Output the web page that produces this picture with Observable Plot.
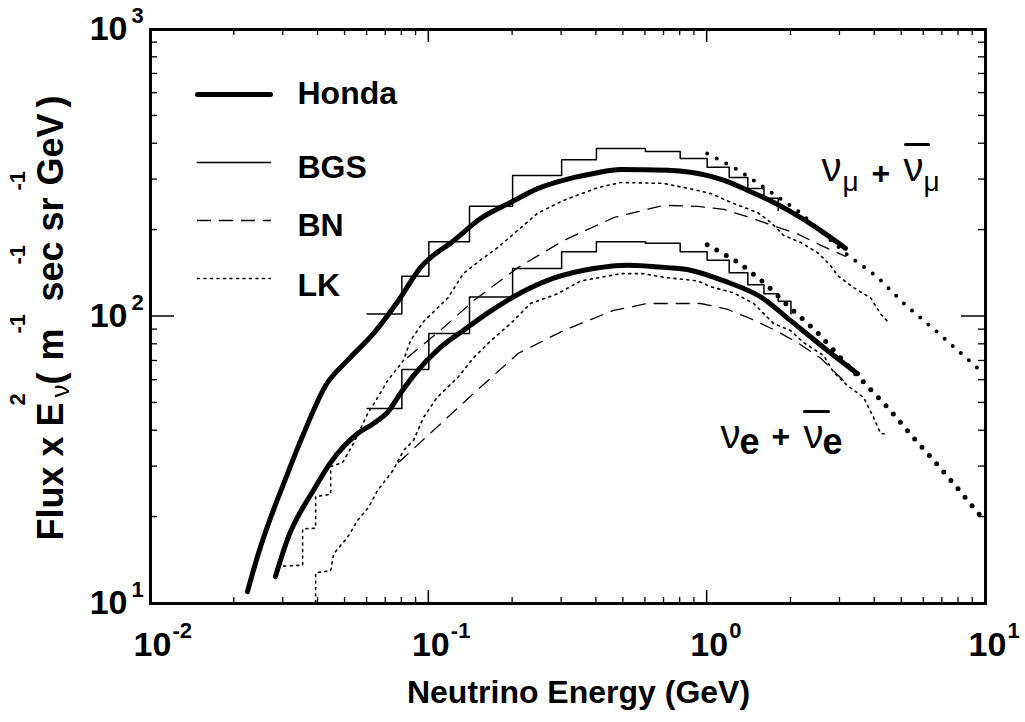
<!DOCTYPE html>
<html><head><meta charset="utf-8">
<script src="https://cdn.jsdelivr.net/npm/d3@7"></script>
<script src="https://cdn.jsdelivr.net/npm/@observablehq/plot@0.6"></script>
<style>body{margin:0;background:#fff}</style>
</head><body><div id="chart"></div>
<script>
// ---- data (E in GeV, Flux x E^2) ----
const hondaMu = [[0.0223,11.0],[0.0244,14.9],[0.0311,28.4],[0.0355,39.1],[0.0426,57.5],[0.0510,70.3],[0.0633,87.3],[0.0778,113.7],[0.0933,148],[0.123,184],[0.153,219],[0.197,250],[0.246,279],[0.323,303],[0.391,315],[0.489,325],[0.721,323],[0.871,318],[1.15,298],[1.40,275],[1.73,250],[2.17,221],[2.62,196],[3.14,173]];
const hondaE = [[0.0281,12.4],[0.0311,16.8],[0.0385,24.8],[0.0444,31.0],[0.0555,39.1],[0.0633,42.4],[0.0711,46.4],[0.0791,54.0],[0.0881,62.2],[0.110,78.0],[0.133,89.4],[0.163,103],[0.214,121],[0.281,136],[0.391,147],[0.518,151],[0.721,148],[0.871,145],[1.15,133],[1.58,116],[1.99,96.9],[2.62,78.0],[3.47,63.2]];
const bgsEdges = [0.06,0.08,0.1,0.14,0.2,0.3,0.4,0.6,0.8,1.0,1.2,1.4,1.6,1.8,2.0];
const bgsMu = [102,138,182,242,310,352,385,376,355,331,305,279,258];
const bgsMuEnd = 234;
const bgsE = [47.8,65.3,87.3,117,147,168,182,180,168,157,142,129,120,113];
const bgsEEnd = 102;
const bnMu = [[0.0838,71.9],[0.110,89.4],[0.145,113.7],[0.209,148],[0.305,184],[0.461,221],[0.697,244],[0.925,242],[1.15,236],[1.43,221],[1.73,207],[2.11,194],[2.56,177],[3.14,162]];
const bnE = [[0.0778,31.0],[0.101,39.1],[0.145,54.0],[0.209,74.3],[0.305,89.4],[0.461,105],[0.611,111],[0.802,111],[0.947,111],[1.18,106],[1.43,98.4],[1.76,89.4],[2.11,81.1],[2.56,71.5],[3.01,61.3],[3.14,58.9]];
const lkMu = [[0.0301,13.5],[0.0352,13.6],[0.0352,18.2],[0.0392,18.3],[0.0392,23.6],[0.0444,24.0],[0.0444,30.0],[0.0490,31.0],[0.0536,36.1],[0.0603,45.9],[0.0655,52.2],[0.0711,59.8],[0.0811,70.3],[0.0859,82.4],[0.0957,96],[0.117,116],[0.133,141],[0.153,157],[0.177,174],[0.209,200],[0.246,229],[0.305,254],[0.404,281],[0.489,293],[0.697,291],[0.925,275],[1.03,268],[1.24,248],[1.52,230],[1.69,213],[1.88,192],[2.17,181],[2.49,167],[2.77,151],[2.94,139],[3.36,126],[3.87,116],[4.20,102],[4.49,95.3]];
const lkE = [[0.0355,10.0],[0.0392,10.0],[0.0392,12.8],[0.0444,13.0],[0.0455,14.9],[0.0510,17.0],[0.0555,19.5],[0.0607,21.6],[0.0655,24.8],[0.0742,29.0],[0.0811,34.1],[0.0881,37.0],[0.0957,44.5],[0.107,52.2],[0.127,61.3],[0.145,71.9],[0.167,82.4],[0.197,94.6],[0.232,111],[0.290,120],[0.351,133],[0.489,141],[0.590,141],[0.697,137],[0.925,133],[1.03,127],[1.24,121],[1.47,111],[1.73,94.6],[1.99,89.4],[2.22,81.1],[2.62,73.1],[2.85,63.8],[3.19,57.5],[3.65,52.2],[3.96,44.5],[4.20,39.1],[4.49,39.0]];
const extMu = [[1.00,370],[1.30,323],[1.66,275],[2.11,234],[2.41,209],[3.14,166],[4.10,137],[5.04,112],[6.73,87.9],[8.34,73.1],[9.8,63.5]];
const extE = [[1.00,178],[1.30,154],[1.62,130],[1.99,107],[2.47,88.7],[3.01,71.9],[3.68,58.5],[4.49,47.8],[5.42,38.5],[6.56,31.3],[7.94,25.2],[9.8,19.7]];
const xTickValues = [0.01,0.1,1,10];
const xTickExps = ["-2","-1","0","1"];
const yTickValues = [10,100,1000];
const yTickExps = ["1","2","3"];
const legendNames = ["Honda","BGS","BN","LK"];

// ---- layout ----
const WIDTH = 1025, HEIGHT = 722, ML = 150, MR = 40, MT = 29, MB = 119;
const F = "'Liberation Sans', Arial, Helvetica, sans-serif";

const steps = (edges, vals, end) => vals.map((v, i) => [edges[i], v]).concat([[edges[vals.length], end]]);
const xMinor = [], yMinor = [];
for (const d of [0.01,0.1,1]) for (let k = 2; k <= 9; k++) xMinor.push(d*k);
for (const d of [10,100]) for (let k = 2; k <= 9; k++) yMinor.push(d*k);
const xMajorIn = xTickValues.slice(1,-1), yMajorIn = yTickValues.slice(1,-1);

const hline = {draw(ctx, l) { ctx.moveTo(0,0); ctx.lineTo(0,-l); }};
const at = (x, y) => ({frameAnchor: "top-left", dx: x - ML, dy: y - MT});
const lab = (t, x, y, o = {}) => Plot.text([t], {text: d => d, ...at(x, y), lineAnchor: "bottom", textAnchor: "start", fontFamily: F, fontWeight: "bold", fontSize: 32, fill: "black", ...o});
const seg = (x, y, len, o = {}) => Plot.vector([0], {...at(x, y), length: len, rotate: 90, anchor: "start", shape: hline, stroke: "black", ...o});
const rl = (t, xb, ys, size, o = {}) => lab(t, xb, ys, {rotate: -90, fontSize: size, ...o});

const lineOpts = {x: d => d[0], y: d => d[1], stroke: "black", clip: true};

const styles = [
  {strokeWidth: 5},
  {strokeWidth: 1.5},
  {strokeWidth: 1.3, strokeDasharray: "13,9"},
  {strokeWidth: 1.6, strokeDasharray: "2,4.5"}
];
const legendY = [94, 162, 220, 278];
const legendTextY = [103, 177, 235, 295];

const chart = Plot.plot({
  width: WIDTH, height: HEIGHT,
  marginLeft: ML, marginRight: MR, marginTop: MT, marginBottom: MB,
  x: {type: "log", domain: [0.01, 10], axis: null},
  y: {type: "log", domain: [10, 1000], axis: null},
  style: {fontFamily: F, background: "white", color: "black"},
  marks: [
    // data
    Plot.line(bnMu, {...lineOpts, ...styles[2]}),
    Plot.line(bnE, {...lineOpts, ...styles[2]}),
    Plot.line(lkMu, {...lineOpts, ...styles[3]}),
    Plot.line(lkE, {...lineOpts, ...styles[3]}),
    Plot.line(steps(bgsEdges, bgsMu, bgsMuEnd), {...lineOpts, ...styles[1], curve: "step-after"}),
    Plot.line(steps(bgsEdges, bgsE, bgsEEnd), {...lineOpts, ...styles[1], curve: "step-after"}),
    Plot.line(extMu, {...lineOpts, strokeWidth: 4, strokeLinecap: "round", strokeDasharray: "0,10.8"}),
    Plot.line(extE, {...lineOpts, strokeWidth: 5, strokeLinecap: "round", strokeDasharray: "0,11"}),
    Plot.line(hondaMu, {...lineOpts, ...styles[0], curve: "monotone-x"}),
    Plot.line(hondaE, {...lineOpts, ...styles[0], curve: "monotone-x"}),
    Plot.frame({strokeWidth: 3, stroke: "black"}),
    // tick labels
    Plot.text(xTickValues, {x: d => d, frameAnchor: "bottom", text: () => "10", dx: 2, dy: 52, lineAnchor: "bottom", textAnchor: "middle", fontFamily: F, fontWeight: "bold", fontSize: 34}),
    Plot.text(xTickValues, {x: d => d, frameAnchor: "bottom", text: (d, i) => xTickExps[i], dx: 22, dy: 34, lineAnchor: "bottom", textAnchor: "start", fontFamily: F, fontWeight: "bold", fontSize: 22}),
    Plot.text(yTickValues, {y: d => d, frameAnchor: "left", text: () => "10", dx: -23, lineAnchor: "middle", textAnchor: "end", fontFamily: F, fontWeight: "bold", fontSize: 34}),
    Plot.text(yTickValues, {y: d => d, frameAnchor: "left", text: (d, i) => yTickExps[i], dx: -19, dy: -7, lineAnchor: "bottom", textAnchor: "start", fontFamily: F, fontWeight: "bold", fontSize: 22}),
    // legend
    ...legendNames.map((n, i) => seg(197, legendY[i], 73, styles[i])),
    ...legendNames.map((n, i) => lab(n, 297, legendTextY[i])),
    // axis titles
    lab("Neutrino Energy (GeV)", 578, 702, {textAnchor: "middle", fontSize: 32}),
    rl("Flux x E", 62, 540, 36),
    rl("ν", 68, 397, 26, {fontWeight: "normal"}),
    rl("2", 24, 405, 22),
    rl("(", 62, 384, 36),
    rl("m", 62, 360, 36),
    rl("-1", 24, 333, 22),
    rl("sec", 62, 301, 36),
    rl("-1", 24, 264, 22),
    rl("sr", 62, 231, 36),
    rl("-1", 24, 190, 22),
    rl("GeV", 62, 185, 36),
    rl(")", 62, 107, 36),
    // annotations
    lab("ν", 821, 180, {fontSize: 40, fontWeight: "normal"}),
    lab("μ", 842, 190, {fontSize: 28, fontWeight: "normal"}),
    lab("+", 871, 183, {fontSize: 32}),
    lab("ν", 903, 180, {fontSize: 40, fontWeight: "normal"}),
    seg(905, 144, 23, {strokeWidth: 3}),
    lab("μ", 923, 190, {fontSize: 28, fontWeight: "normal"}),
    lab("ν", 720, 447, {fontSize: 40, fontWeight: "normal"}),
    lab("e", 739, 453, {fontSize: 36}),
    lab("+", 771, 446, {fontSize: 32}),
    lab("ν", 803, 447, {fontSize: 40, fontWeight: "normal"}),
    seg(804, 411, 24, {strokeWidth: 3}),
    lab("e", 822, 453, {fontSize: 36})
  ]
});

// inward tick marks on all four sides, positioned through Plot's own scales
const sx = chart.scale("x"), sy = chart.scale("y");
const x0 = ML, x1 = WIDTH - MR, y0 = MT, y1 = HEIGHT - MB;
const g = d3.select(chart).append("g").attr("stroke", "black");
const addX = (vals, len, sw) => vals.forEach(v => {
  const px = sx.apply(v);
  g.append("line").attr("x1", px).attr("x2", px).attr("y1", y1).attr("y2", y1 - len).attr("stroke-width", sw);
  g.append("line").attr("x1", px).attr("x2", px).attr("y1", y0).attr("y2", y0 + len).attr("stroke-width", sw);
});
const addY = (vals, len, sw) => vals.forEach(v => {
  const py = sy.apply(v);
  g.append("line").attr("y1", py).attr("y2", py).attr("x1", x0).attr("x2", x0 + len).attr("stroke-width", sw);
  g.append("line").attr("y1", py).attr("y2", py).attr("x1", x1).attr("x2", x1 - len).attr("stroke-width", sw);
});
addX(xMinor, 6, 1.3);
addX(xMajorIn, 13, 1.5);
addY(yMinor, 7, 1.3);
addY(yMajorIn, 24, 1.5);

document.getElementById("chart").append(chart);
</script>
</body></html>
